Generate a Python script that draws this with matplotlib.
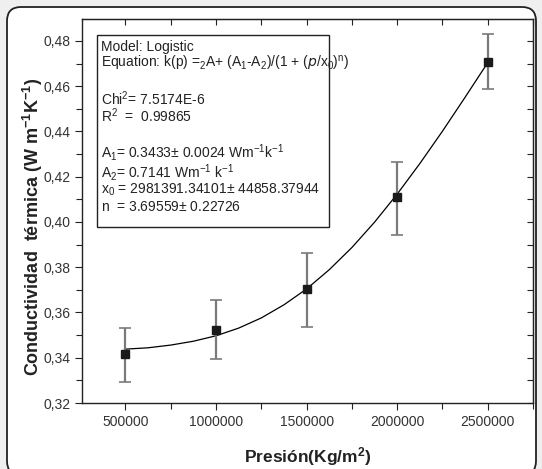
import matplotlib
matplotlib.use("Agg")
import matplotlib.pyplot as plt
from matplotlib.patches import FancyBboxPatch, Rectangle
from matplotlib.ticker import MultipleLocator, FuncFormatter, NullFormatter

plt.rcParams['font.family'] = ['Liberation Sans', 'DejaVu Sans']
plt.rcParams['mathtext.default'] = 'regular'

# measured points
presion = [500000, 1000000, 1500000, 2000000, 2500000]
conductividad = [0.3415, 0.3524, 0.3704, 0.4109, 0.4709]
err_sup = [0.3531, 0.3654, 0.3864, 0.4267, 0.4831]
err_inf = [0.3291, 0.3394, 0.3537, 0.3943, 0.4587]

# logistic fit curve
p_fit = [500000, 625000, 750000, 875000, 1000000, 1125000, 1250000, 1375000,
         1500000, 1625000, 1750000, 1875000, 2000000, 2125000, 2250000,
         2375000, 2500000]
k_fit = [0.3438, 0.3444, 0.3456, 0.3473, 0.3497, 0.3531, 0.3576, 0.3634,
         0.3704, 0.3789, 0.3887, 0.3999, 0.4123, 0.4258, 0.4401, 0.4551,
         0.4704]

fig = plt.figure(figsize=(5.42, 4.69), dpi=100)
fig.patch.set_facecolor('#efefef')

# rounded frame around the whole figure (pixel coords)
frame = FancyBboxPatch((7, -6), 529, 468, boxstyle="round,pad=0,rounding_size=14",
                       transform=None, facecolor='white', edgecolor='#222222',
                       linewidth=1.3, zorder=-10)
fig.patches.append(frame)

ax = fig.add_axes([82 / 542, 1 - 403 / 469, 451 / 542, 384 / 469])
ax.set_facecolor('none')

ax.plot(p_fit, k_fit, color='black', lw=0.9, zorder=2)
yerr = [[c - lo for c, lo in zip(conductividad, err_inf)],
        [hi - c for c, hi in zip(conductividad, err_sup)]]
eb = ax.errorbar(presion, conductividad, yerr=yerr, fmt='s', color='#1a1a1a',
                 ms=6.3, ecolor='#7a7a7a', elinewidth=1.6, capsize=4.5,
                 capthick=1.2, zorder=3)
for cap in eb[1]:
    cap.set_color('#333333')

ax.set_xlim(260000, 2750000)
ax.set_ylim(0.32, 0.4897)

def setup_ticks(axis, major, minor):
    axis.set_major_locator(MultipleLocator(major))
    axis.set_minor_locator(MultipleLocator(minor))

setup_ticks(ax.xaxis, 500000, 250000)
setup_ticks(ax.yaxis, 0.02, 0.01)
ax.xaxis.set_major_formatter(FuncFormatter(lambda v, pos: '%d' % v))
ax.yaxis.set_major_formatter(FuncFormatter(lambda v, pos: ('%.2f' % v).replace('.', ',')))
ax.tick_params(which='both', direction='out', labelsize=10, colors='#222222',
               labelcolor='#333333', width=0.8)
ax.tick_params(which='major', length=5)
ax.tick_params(which='minor', length=4)

# mirrored ticks on top and right, pointing inward
top = ax.secondary_xaxis('top')
right = ax.secondary_yaxis('right')
setup_ticks(top.xaxis, 500000, 250000)
setup_ticks(right.yaxis, 0.02, 0.01)
for sec in (top, right):
    sec.tick_params(which='both', direction='in', length=4, width=0.8,
                    colors='#222222')
top.xaxis.set_major_formatter(NullFormatter())
right.yaxis.set_major_formatter(NullFormatter())

for s in ax.spines.values():
    s.set_linewidth(1.0)
    s.set_color('#222222')

ax.set_xlabel(r'Presión(Kg/m$^2$)', fontsize=12.5, fontweight='bold',
              color='#222222', labelpad=12)
ax.set_ylabel(r'Conductividad  térmica (W m$^{-1}$K$^{-1}$)', fontsize=13,
              fontweight='bold', color='#222222')
ax.yaxis.set_label_coords(-37 / 451, (403 - 227) / 384)

# parameter box
box = Rectangle((15 / 451, (403 - 227) / 384), (329 - 97) / 451, (227 - 35) / 384,
                transform=ax.transAxes, facecolor='white', edgecolor='#222222',
                lw=1.0, zorder=4)
ax.add_patch(box)
lines = [
    (47, 'Model: Logistic'),
    (63, r'Equation: k(p) =$_2$A+ (A$_1$-A$_2$)/(1 + ($\it{p}$/x$_0$)$^n$)'),
    (99, r'Chi$^2$= 7.5174E-6'),
    (116, r'R$^2$  =  0.99865'),
    (152, r'A$_1$= 0.3433$\pm$ 0.0024 Wm$^{-1}$k$^{-1}$'),
    (172, r'A$_2$= 0.7141 Wm$^{-1}$ k$^{-1}$'),
    (190, r'x$_0$ = 2981391.34101$\pm$ 44858.37944'),
    (207, r'n  = 3.69559$\pm$ 0.22726'),
]
for y, s in lines:
    ax.text(19 / 451, (403 - y) / 384, s, transform=ax.transAxes, fontsize=10,
            color='#222222', va='center', ha='left', zorder=5)

fig.savefig('out.png', dpi=100, facecolor=fig.get_facecolor())
